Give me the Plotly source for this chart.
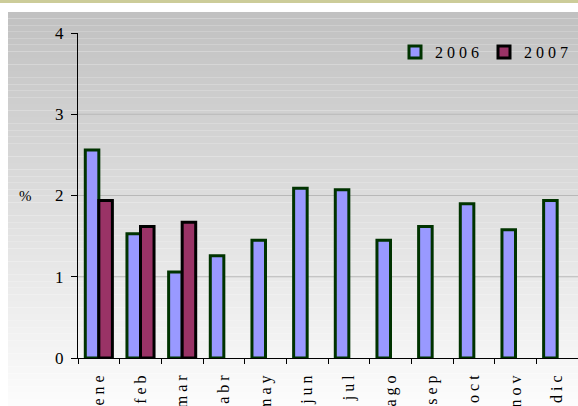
import plotly.graph_objects as go

months = ["ene", "feb", "mar", "abr", "may", "jun", "jul", "ago", "sep", "oct", "nov", "dic"]
values_2006 = [2.56, 1.53, 1.06, 1.26, 1.45, 2.09, 2.07, 1.45, 1.62, 1.90, 1.58, 1.94]
values_2007 = [1.94, 1.62, 1.67, None, None, None, None, None, None, None, None, None]
y_ticks = [0, 1, 2, 3, 4]

SERIF = "Liberation Serif, Times New Roman, serif"


def spaced(s):
    return " ".join(list(s))


fig = go.Figure()

fig.add_trace(go.Bar(
    x=months,
    y=values_2006,
    name=spaced("2006"),
    marker=dict(color="#9999ff", line=dict(color="#003300", width=3)),
))
fig.add_trace(go.Bar(
    x=months,
    y=values_2007,
    name=spaced("2007"),
    marker=dict(color="#993366", line=dict(color="#000000", width=3)),
))

# plot area spans x 78..578, y 33..358 in a 578x406 page
W, H = 578, 406
L, R, T, B = 78, 0, 33, 48
pw, ph = W - L - R, H - T - B


def px_x(x):
    return (x - L) / pw


def px_y(y):
    return (H - B - y) / ph


# vertical gray gradient background built from thin bands
shapes = []
top, bottom = 12, 406
n = 60
for i in range(n):
    y0 = top + (bottom - top) * i / n
    y1 = top + (bottom - top) * (i + 1) / n
    g = int(round(192 + (253 - 192) * (i + 0.5) / n))
    shapes.append(dict(
        type="rect", xref="paper", yref="paper",
        x0=px_x(8), x1=px_x(W), y0=px_y(y1), y1=px_y(y0),
        fillcolor=f"rgb({g},{g},{g})", line=dict(width=0), layer="below",
    ))

# khaki strip at the very top
shapes.append(dict(
    type="rect", xref="paper", yref="paper",
    x0=px_x(0), x1=px_x(W), y0=px_y(3), y1=px_y(0),
    fillcolor="#cccc99", line=dict(width=0), layer="below",
))

for gy in [1, 2, 3]:
    shapes.append(dict(
        type="line", xref="paper", yref="y",
        x0=0, x1=1, y0=gy, y1=gy,
        line=dict(color="#b8b8b8", width=1), layer="below",
    ))

fig.update_layout(
    width=W,
    height=H,
    margin=dict(l=L, r=R, t=T, b=B, autoexpand=False),
    paper_bgcolor="white",
    plot_bgcolor="rgba(0,0,0,0)",
    font=dict(family=SERIF, color="#000000", size=15),
    barmode="group",
    bargap=0.35,
    bargroupgap=0,
    showlegend=True,
    legend=dict(
        orientation="h",
        x=0.99,
        xanchor="right",
        y=px_y(52),
        yanchor="middle",
        bgcolor="rgba(0,0,0,0)",
        font=dict(family=SERIF, size=16),
        itemwidth=30,
        tracegroupgap=0,
    ),
    shapes=shapes,
    xaxis=dict(
        tickvals=months,
        ticktext=[spaced(m) for m in months],
        tickangle=-90,
        tickson="boundaries",
        ticks="outside",
        ticklen=5,
        tickcolor="#000000",
        ticklabelstandoff=10,
        showline=True,
        linecolor="#000000",
        linewidth=1,
        showgrid=False,
        tickfont=dict(family=SERIF, size=16),
        automargin=False,
    ),
    yaxis=dict(
        range=[0, 4],
        tickvals=y_ticks,
        ticks="outside",
        ticklen=6,
        tickcolor="#000000",
        ticklabelstandoff=4,
        showline=True,
        linecolor="#000000",
        linewidth=1,
        showgrid=False,
        zeroline=False,
        tickfont=dict(family=SERIF, size=17),
        automargin=False,
    ),
    annotations=[
        dict(
            text="%",
            xref="paper", yref="paper",
            x=px_x(17), y=px_y(196),
            showarrow=False,
            font=dict(family=SERIF, size=15),
        )
    ],
)

# drop the default 8px page margin so the figure sits at the window's corner
fig.write_html(
    "out.html",
    config={"displayModeBar": False},
    post_script="document.body.style.margin='0';",
)
